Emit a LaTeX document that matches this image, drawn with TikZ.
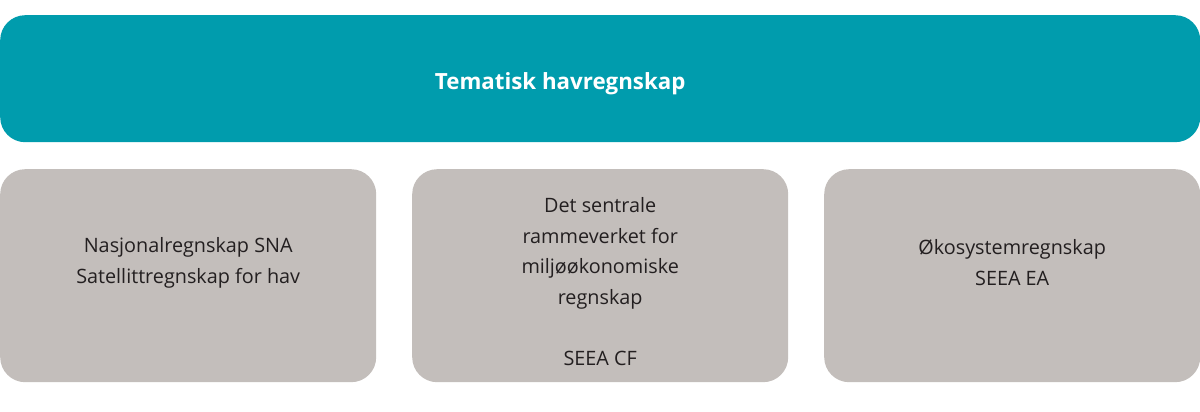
\documentclass[tikz,border=0pt]{standalone}
\usepackage{fontspec}
\setmainfont{Open Sans}
\definecolor{teal}{HTML}{009CAD}
\definecolor{greybox}{HTML}{C3BEBB}
\definecolor{ink}{HTML}{231F20}
\tikzset{
  box/.style={rounded corners=25pt, inner sep=0pt, anchor=north west},
  topbox/.style={box, fill=teal, minimum width=1200pt, minimum height=127pt},
  subbox/.style={box, fill=greybox, minimum width=376pt, minimum height=213pt},
  lbl/.style={text=ink, font=\fontsize{19.8}{30.6}\selectfont, align=center, inner sep=0pt},
}
\begin{document}
\begin{tikzpicture}[x=1pt,y=-1pt]
\useasboundingbox (0,0) rectangle (1200,412);
\node[topbox] (top) at (0,15) {};
\node[text=white, font=\fontsize{22.3}{26}\selectfont\bfseries, anchor=base, inner sep=0pt] (title) at ([xshift=-40pt]top.center |- 0,89) {Tematisk havregnskap};
\node[subbox] (b1) at (0,169) {};
\node[subbox] (b2) at (412,169) {};
\node[subbox] (b3) at (824,169) {};
\node[lbl] (t1) at ([yshift=13pt]b1.center) {Nasjonalregnskap SNA\\Satellittregnskap for hav};
\node[lbl] (t2) at ([yshift=-6pt]b2.center) {Det sentrale\\rammeverket for\\miljøøkonomiske\\regnskap\\[30.6pt]SEEA CF};
\node[lbl] (t3) at ([yshift=13pt]b3.center) {Økosystemregnskap\\SEEA EA};
\end{tikzpicture}
\end{document}
